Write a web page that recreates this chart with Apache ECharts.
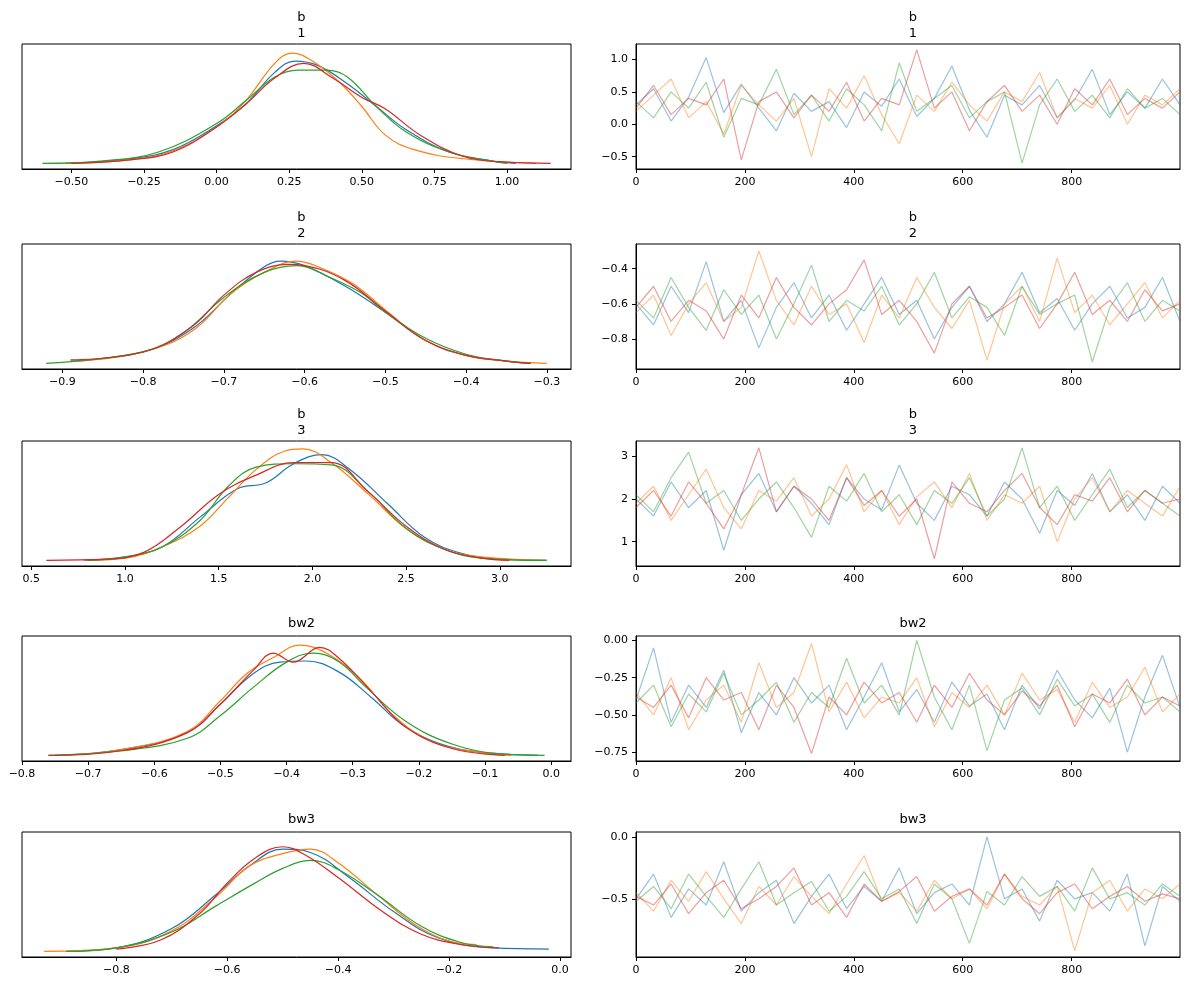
<!DOCTYPE html>
<html>
<head>
<meta charset="utf-8">
<script src="https://cdn.jsdelivr.net/npm/echarts@6/dist/echarts.min.js"></script>
<style>
  html, body { margin: 0; padding: 0; background: #fff; }
  #chart { width: 1189px; height: 989px; }
</style>
</head>
<body>
<div id="chart"></div>
<script>
// panel titles, top to bottom
const titles = ["b\n1", "b\n2", "b\n3", "bw2", "bw3"];
const chainColors = ["#1f77b4", "#ff7f0e", "#2ca02c", "#d62728"];

// KDE curves per chain, [x, relative density]
const kdeB1 = [
  [[-0.52,0],[-0.3,0.04],[-0.15,0.12],[0,0.33],[0.1,0.52],[0.2,0.8],[0.27,0.9],[0.35,0.86],[0.45,0.7],[0.55,0.5],[0.65,0.3],[0.8,0.1],[0.95,0.02],[1.03,0]],
  [[-0.52,0],[-0.3,0.03],[-0.15,0.11],[0,0.32],[0.1,0.55],[0.2,0.88],[0.26,0.97],[0.33,0.9],[0.42,0.72],[0.5,0.5],[0.58,0.25],[0.68,0.12],[0.85,0.04],[1.1,0]],
  [[-0.6,0],[-0.4,0.02],[-0.2,0.1],[0,0.35],[0.1,0.55],[0.2,0.76],[0.28,0.82],[0.38,0.82],[0.45,0.76],[0.55,0.5],[0.65,0.28],[0.8,0.1],[0.95,0.02],[1.0,0]],
  [[-0.5,0],[-0.3,0.03],[-0.15,0.1],[0,0.32],[0.1,0.52],[0.2,0.75],[0.3,0.88],[0.4,0.75],[0.5,0.58],[0.58,0.48],[0.7,0.25],[0.85,0.06],[1.0,0.01],[1.15,0]]
];
const kdeB2 = [
  [[-0.89,0.02],[-0.8,0.1],[-0.74,0.3],[-0.69,0.62],[-0.65,0.85],[-0.63,0.9],[-0.6,0.86],[-0.55,0.68],[-0.5,0.45],[-0.45,0.2],[-0.4,0.07],[-0.35,0.02],[-0.32,0]],
  [[-0.88,0.02],[-0.8,0.1],[-0.74,0.28],[-0.69,0.62],[-0.65,0.8],[-0.61,0.9],[-0.58,0.84],[-0.54,0.7],[-0.5,0.47],[-0.45,0.2],[-0.4,0.07],[-0.35,0.02],[-0.3,0]],
  [[-0.92,0],[-0.8,0.1],[-0.75,0.27],[-0.7,0.58],[-0.65,0.8],[-0.61,0.86],[-0.57,0.76],[-0.53,0.62],[-0.5,0.45],[-0.45,0.22],[-0.4,0.08],[-0.35,0.02],[-0.32,0]],
  [[-0.89,0.03],[-0.8,0.1],[-0.74,0.32],[-0.7,0.6],[-0.66,0.8],[-0.62,0.87],[-0.6,0.86],[-0.55,0.73],[-0.5,0.46],[-0.45,0.2],[-0.4,0.07],[-0.35,0.02],[-0.32,0]]
];
const kdeB3 = [
  [[0.78,0],[1.0,0.03],[1.2,0.12],[1.4,0.38],[1.6,0.63],[1.75,0.68],[1.9,0.85],[2.05,0.93],[2.2,0.8],[2.4,0.5],[2.6,0.2],[2.8,0.06],[3.0,0.01],[3.25,0]],
  [[0.78,0],[1.0,0.02],[1.2,0.12],[1.4,0.3],[1.55,0.55],[1.7,0.8],[1.85,0.96],[1.95,0.98],[2.1,0.86],[2.3,0.58],[2.5,0.28],[2.7,0.1],[2.9,0.03],[3.25,0]],
  [[0.8,0],[1.0,0.03],[1.2,0.12],[1.4,0.35],[1.55,0.65],[1.7,0.82],[1.9,0.85],[2.1,0.84],[2.3,0.6],[2.5,0.28],[2.7,0.1],[2.9,0.02],[3.25,0]],
  [[0.58,0],[0.9,0.01],[1.1,0.07],[1.3,0.3],[1.5,0.58],[1.7,0.75],[1.9,0.86],[2.1,0.86],[2.3,0.6],[2.5,0.3],[2.7,0.1],[2.9,0.02],[3.05,0]]
];
const kdeBw2 = [
  [[-0.75,0],[-0.65,0.05],[-0.55,0.2],[-0.5,0.45],[-0.45,0.72],[-0.41,0.82],[-0.37,0.83],[-0.32,0.73],[-0.27,0.5],[-0.22,0.25],[-0.15,0.07],[-0.07,0.01],[-0.02,0]],
  [[-0.74,0],[-0.65,0.05],[-0.55,0.21],[-0.5,0.48],[-0.46,0.72],[-0.42,0.86],[-0.38,0.97],[-0.34,0.9],[-0.29,0.68],[-0.24,0.36],[-0.18,0.12],[-0.1,0.02],[-0.06,0]],
  [[-0.76,0],[-0.65,0.04],[-0.55,0.15],[-0.5,0.35],[-0.45,0.6],[-0.4,0.82],[-0.36,0.9],[-0.32,0.82],[-0.28,0.6],[-0.22,0.3],[-0.15,0.1],[-0.07,0.01],[-0.01,0]],
  [[-0.76,0],[-0.65,0.04],[-0.55,0.2],[-0.5,0.45],[-0.45,0.75],[-0.42,0.9],[-0.39,0.82],[-0.35,0.95],[-0.32,0.85],[-0.27,0.55],[-0.22,0.25],[-0.15,0.06],[-0.07,0]]
];
const kdeBw3 = [
  [[-0.89,0],[-0.8,0.03],[-0.7,0.2],[-0.62,0.5],[-0.56,0.75],[-0.5,0.9],[-0.45,0.87],[-0.38,0.65],[-0.3,0.35],[-0.22,0.12],[-0.12,0.03],[-0.02,0.02]],
  [[-0.93,0],[-0.8,0.03],[-0.7,0.18],[-0.62,0.48],[-0.56,0.75],[-0.5,0.86],[-0.45,0.9],[-0.4,0.78],[-0.33,0.5],[-0.25,0.2],[-0.18,0.07],[-0.15,0.06]],
  [[-0.89,0],[-0.8,0.03],[-0.7,0.17],[-0.62,0.4],[-0.55,0.6],[-0.5,0.73],[-0.45,0.8],[-0.4,0.72],[-0.33,0.5],[-0.25,0.22],[-0.18,0.08],[-0.12,0.04]],
  [[-0.8,0.02],[-0.72,0.1],[-0.65,0.33],[-0.6,0.6],[-0.55,0.82],[-0.5,0.92],[-0.46,0.85],[-0.4,0.65],[-0.32,0.35],[-0.25,0.15],[-0.18,0.06],[-0.11,0.03]]
];

// trace samples per chain, coarse readings of the right column
const traceB1 = [
  [0.3,0.55,0.05,0.42,1.03,0.18,0.62,0.25,-0.1,0.48,0.2,0.35,-0.05,0.5,0.28,0.7,0.12,0.4,0.9,0.22,-0.2,0.45,0.3,0.6,0.1,0.38,0.85,0.15,0.5,0.25,0.7,0.3],
  [0.2,0.45,0.7,0.1,0.35,-0.15,0.6,0.3,0.05,0.4,-0.5,0.55,0.25,0.75,0.15,-0.3,0.45,0.2,0.65,0.3,0.05,0.5,0.35,0.8,0.1,0.4,0.25,0.6,0.0,0.45,0.3,0.55],
  [0.35,0.1,0.5,0.25,0.65,-0.2,0.4,0.3,0.85,0.15,0.45,0.05,0.55,0.3,-0.1,0.95,0.2,0.4,0.6,0.1,0.35,0.5,-0.6,0.3,0.7,0.2,0.45,0.1,0.55,0.25,0.4,0.15],
  [0.25,0.6,0.15,0.4,0.3,0.7,-0.55,0.35,0.5,0.1,0.45,0.2,0.65,0.05,0.4,0.3,1.15,0.25,0.5,-0.1,0.35,0.6,0.2,0.45,0.0,0.55,0.3,0.7,0.15,0.4,0.25,0.5]
];
const traceB2 = [
  [-0.6,-0.72,-0.5,-0.65,-0.36,-0.7,-0.58,-0.85,-0.62,-0.48,-0.68,-0.55,-0.75,-0.6,-0.45,-0.66,-0.58,-0.8,-0.62,-0.5,-0.7,-0.6,-0.42,-0.65,-0.57,-0.75,-0.6,-0.5,-0.68,-0.62,-0.45,-0.7],
  [-0.65,-0.55,-0.78,-0.6,-0.48,-0.7,-0.62,-0.3,-0.58,-0.72,-0.5,-0.66,-0.6,-0.82,-0.55,-0.68,-0.45,-0.62,-0.74,-0.58,-0.92,-0.6,-0.5,-0.7,-0.34,-0.65,-0.55,-0.72,-0.6,-0.48,-0.68,-0.58],
  [-0.58,-0.68,-0.45,-0.62,-0.75,-0.52,-0.66,-0.55,-0.8,-0.6,-0.38,-0.7,-0.58,-0.64,-0.5,-0.72,-0.6,-0.42,-0.68,-0.56,-0.62,-0.78,-0.5,-0.66,-0.6,-0.55,-0.93,-0.62,-0.48,-0.7,-0.58,-0.64],
  [-0.62,-0.5,-0.7,-0.58,-0.64,-0.8,-0.55,-0.68,-0.45,-0.62,-0.72,-0.6,-0.52,-0.35,-0.66,-0.58,-0.7,-0.88,-0.6,-0.5,-0.68,-0.62,-0.55,-0.74,-0.6,-0.42,-0.66,-0.58,-0.7,-0.52,-0.64,-0.6]
];
const traceB3 = [
  [2.0,1.6,2.4,1.8,2.2,0.8,2.1,2.6,1.7,2.3,1.9,1.4,2.5,2.0,1.75,2.8,1.9,1.5,2.3,2.1,1.6,2.4,2.0,1.2,2.2,1.85,2.6,1.7,2.1,1.5,2.3,1.9],
  [1.9,2.3,1.5,2.1,2.7,1.8,1.3,2.2,1.95,2.5,1.6,2.0,2.8,1.7,2.2,1.4,2.05,2.4,1.8,2.6,1.5,2.1,1.9,2.3,1.0,2.0,2.5,1.7,2.2,1.9,1.6,2.3],
  [2.1,1.7,2.5,3.1,1.9,2.2,1.5,2.0,2.4,1.8,1.1,2.3,1.95,2.6,1.7,2.1,1.4,2.2,1.9,2.5,1.6,2.0,3.2,1.8,2.3,1.5,2.1,2.7,1.8,2.2,1.9,1.6],
  [1.8,2.2,1.6,2.4,1.9,1.3,2.1,3.2,1.7,2.3,2.0,1.5,2.5,1.85,2.2,1.6,2.0,0.6,2.4,1.9,1.7,2.2,2.6,1.8,1.4,2.1,1.95,2.5,1.7,2.2,1.9,2.0]
];
const traceBw2 = [
  [-0.4,-0.05,-0.55,-0.3,-0.45,-0.2,-0.62,-0.35,-0.5,-0.25,-0.42,-0.3,-0.6,-0.38,-0.15,-0.48,-0.33,-0.55,-0.28,-0.44,-0.36,-0.6,-0.3,-0.46,-0.2,-0.4,-0.52,-0.32,-0.75,-0.38,-0.1,-0.45],
  [-0.35,-0.5,-0.25,-0.6,-0.4,-0.3,-0.55,-0.15,-0.45,-0.35,-0.02,-0.48,-0.28,-0.52,-0.38,-0.42,-0.25,-0.58,-0.35,-0.45,-0.3,-0.5,-0.22,-0.4,-0.33,-0.55,-0.28,-0.45,-0.38,-0.18,-0.48,-0.36],
  [-0.42,-0.3,-0.58,-0.36,-0.48,-0.22,-0.5,-0.4,-0.28,-0.55,-0.35,-0.45,-0.12,-0.42,-0.3,-0.5,0.0,-0.38,-0.6,-0.3,-0.74,-0.4,-0.32,-0.5,-0.26,-0.44,-0.36,-0.55,-0.3,-0.42,-0.38,-0.48],
  [-0.38,-0.45,-0.3,-0.52,-0.25,-0.4,-0.35,-0.6,-0.3,-0.45,-0.76,-0.38,-0.5,-0.28,-0.42,-0.35,-0.55,-0.3,-0.45,-0.22,-0.4,-0.5,-0.34,-0.44,-0.3,-0.58,-0.36,-0.42,-0.26,-0.5,-0.38,-0.44]
];
const traceBw3 = [
  [-0.5,-0.3,-0.65,-0.42,-0.55,-0.2,-0.6,-0.45,-0.35,-0.7,-0.48,-0.3,-0.58,-0.4,-0.52,-0.25,-0.62,-0.45,-0.38,-0.55,0.0,-0.5,-0.42,-0.68,-0.35,-0.5,-0.45,-0.6,-0.3,-0.88,-0.4,-0.52],
  [-0.45,-0.6,-0.35,-0.52,-0.28,-0.5,-0.7,-0.4,-0.55,-0.32,-0.48,-0.62,-0.38,-0.15,-0.52,-0.45,-0.6,-0.35,-0.5,-0.42,-0.58,-0.3,-0.48,-0.55,-0.4,-0.92,-0.45,-0.35,-0.6,-0.42,-0.5,-0.38],
  [-0.52,-0.4,-0.58,-0.3,-0.48,-0.65,-0.42,-0.2,-0.55,-0.45,-0.36,-0.6,-0.48,-0.28,-0.5,-0.42,-0.7,-0.38,-0.5,-0.86,-0.44,-0.55,-0.32,-0.48,-0.4,-0.6,-0.25,-0.5,-0.45,-0.55,-0.38,-0.48],
  [-0.48,-0.55,-0.38,-0.62,-0.45,-0.35,-0.58,-0.5,-0.4,-0.25,-0.55,-0.45,-0.65,-0.38,-0.52,-0.44,-0.32,-0.6,-0.48,-0.42,-0.55,-0.3,-0.5,-0.62,-0.45,-0.38,-0.58,-0.48,-0.4,-0.52,-0.46,-0.5]
];

// axis ranges and tick labels
const kdeXRange = [[-0.67, 1.22], [-0.95, -0.27], [0.45, 3.38], [-0.8, 0.03], [-0.97, 0.02]];
const kdeXTicks = [
  [-0.5, -0.25, 0, 0.25, 0.5, 0.75, 1.0],
  [-0.9, -0.8, -0.7, -0.6, -0.5, -0.4, -0.3],
  [0.5, 1.0, 1.5, 2.0, 2.5, 3.0],
  [-0.8, -0.7, -0.6, -0.5, -0.4, -0.3, -0.2, -0.1, 0.0],
  [-0.8, -0.6, -0.4, -0.2, 0.0]
];
const kdeXDecimals = [2, 1, 1, 1, 1];
const traceYRange = [[-0.69, 1.24], [-0.97, -0.26], [0.43, 3.36], [-0.81, 0.03], [-0.97, 0.04]];
const traceYTicks = [
  [-0.5, 0.0, 0.5, 1.0],
  [-0.8, -0.6, -0.4],
  [1, 2, 3],
  [-0.75, -0.5, -0.25, 0.0],
  [-0.5, 0.0]
];
const traceYDecimals = [1, 1, 0, 2, 1];
const traceXTicks = [0, 200, 400, 600, 800];

const kdeData = [kdeB1, kdeB2, kdeB3, kdeBw2, kdeBw3];
const traceData = [traceB1, traceB2, traceB3, traceBw2, traceBw3];

const rowTops = [44, 244, 441, 636, 832];
const rowHeight = 125;
const font = "DejaVu Sans";

function fmt(v, d) {
  const s = v.toFixed(d);
  return s.replace("-", "\u2212");
}

const grids = [], xAxes = [], yAxes = [], series = [], titleOpts = [];
titles.forEach((t, r) => {
  [[22, 618], [636, 9]].forEach(([left, right], c) => {
    const gi = grids.length;
    grids.push({ left, right, top: rowTops[r], height: rowHeight, show: true, borderColor: "#000", borderWidth: 1 });
    titleOpts.push({
      text: t, left: c === 0 ? 22 + (549 / 2) : 636 + (544 / 2), textAlign: "center",
      top: rowTops[r] - (t.includes("\n") ? 39 : 25),
      textStyle: { fontFamily: font, fontSize: 13, fontWeight: "normal", color: "#000", lineHeight: 16 }
    });
    const tickCommon = { show: true, inside: false, length: 4, lineStyle: { color: "#000" } };
    if (c === 0) {
      const d = kdeXDecimals[r];
      xAxes.push({
        gridIndex: gi, type: "value", min: kdeXRange[r][0], max: kdeXRange[r][1],
        axisLine: { show: true, onZero: false, lineStyle: { color: "#000" } },
        axisTick: Object.assign({ customValues: kdeXTicks[r] }, tickCommon),
        axisLabel: { customValues: kdeXTicks[r], formatter: v => fmt(v, d), fontFamily: font, fontSize: 11, color: "#000" },
        splitLine: { show: false }
      });
      yAxes.push({ gridIndex: gi, type: "value", min: -0.05, max: 1.05, show: false, splitLine: { show: false } });
      kdeData[r].forEach((pts, k) => series.push({
        type: "line", xAxisIndex: gi, yAxisIndex: gi, data: pts, smooth: 0.4, showSymbol: false,
        lineStyle: { color: chainColors[k], width: 1.2 }, z: 2 + k
      }));
    } else {
      const d = traceYDecimals[r];
      xAxes.push({
        gridIndex: gi, type: "value", min: 0, max: 999,
        axisLine: { show: true, onZero: false, lineStyle: { color: "#000" } },
        axisTick: Object.assign({ customValues: traceXTicks }, tickCommon),
        axisLabel: { customValues: traceXTicks, fontFamily: font, fontSize: 11, color: "#000" },
        splitLine: { show: false }
      });
      yAxes.push({
        gridIndex: gi, type: "value", min: traceYRange[r][0], max: traceYRange[r][1],
        axisLine: { show: true, onZero: false, lineStyle: { color: "#000" } },
        axisTick: Object.assign({ customValues: traceYTicks[r] }, tickCommon),
        axisLabel: { customValues: traceYTicks[r], formatter: v => fmt(v, d), fontFamily: font, fontSize: 11, color: "#000" },
        splitLine: { show: false }
      });
      traceData[r].forEach((vals, k) => series.push({
        type: "line", xAxisIndex: gi, yAxisIndex: gi, showSymbol: false,
        data: vals.map((v, i) => [i * 999 / (vals.length - 1), v]),
        lineStyle: { color: chainColors[k], width: 1.2, opacity: 0.45 }, z: 2 + k
      }));
    }
  });
});

const chart = echarts.init(document.getElementById("chart"), null, { renderer: "canvas" });
chart.setOption({
  animation: false,
  backgroundColor: "#fff",
  title: titleOpts,
  grid: grids,
  xAxis: xAxes,
  yAxis: yAxes,
  series
});
</script>
</body>
</html>
